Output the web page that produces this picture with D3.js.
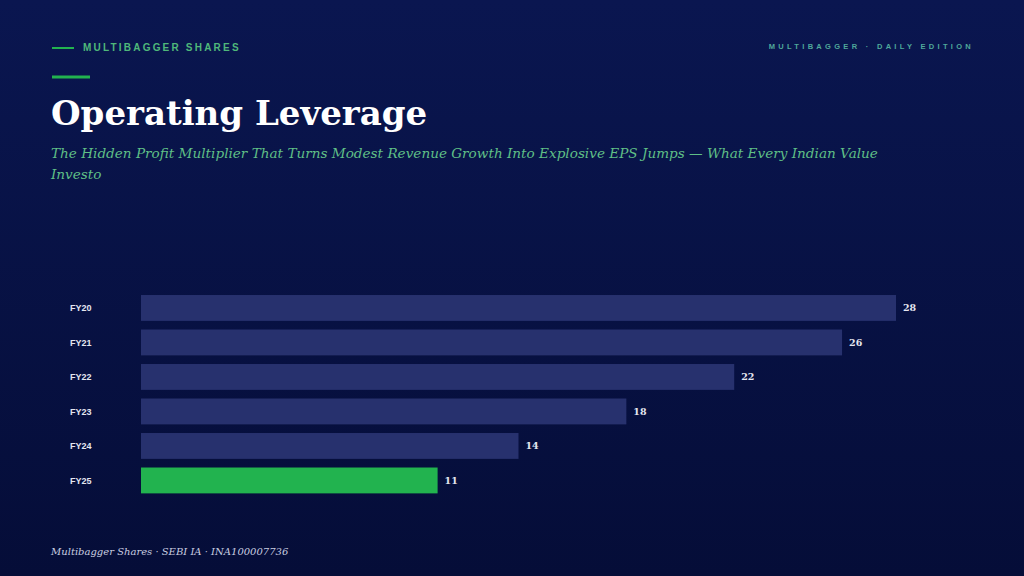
<!DOCTYPE html>
<html>
<head>
<meta charset="utf-8">
<script src="https://cdn.jsdelivr.net/npm/d3@7"></script>
<style>
  html, body { margin: 0; padding: 0; background: #081347; }
  svg { display: block; }
</style>
</head>
<body>
<div id="chart"></div>
<script>
var width = 1024,
    height = 576;

var years = ["FY20", "FY21", "FY22", "FY23", "FY24", "FY25"],
    values = [28, 26, 22, 18, 14, 11],
    highlight = ["FY25"];

var svg = d3.select("#chart").append("svg")
    .attr("width", width)
    .attr("height", height);

// background gradient
var grad = svg.append("defs").append("linearGradient")
    .attr("id", "bg-grad")
    .attr("x1", "0%").attr("x2", "0%")
    .attr("y1", "0%").attr("y2", "100%");
grad.selectAll("stop")
    .data([
      {offset: "0%", color: "#0a1650"},
      {offset: "100%", color: "#050d38"}
    ])
  .enter().append("stop")
    .attr("offset", function(d) { return d.offset; })
    .attr("stop-color", function(d) { return d.color; });

svg.append("rect")
    .attr("width", width)
    .attr("height", height)
    .attr("fill", "url(#bg-grad)");

// header
svg.append("line")
    .attr("x1", 52).attr("x2", 74)
    .attr("y1", 48).attr("y2", 48)
    .attr("stroke", "#22b34f").attr("stroke-width", 2);

svg.append("text")
    .attr("x", 83).attr("y", 51)
    .attr("fill", "#4fb87a")
    .attr("font-family", "Liberation Sans, Arial, sans-serif")
    .attr("font-weight", "bold")
    .attr("font-size", 10)
    .attr("letter-spacing", 2.2)
    .text("MULTIBAGGER SHARES");

svg.append("text")
    .attr("x", 974).attr("y", 49)
    .attr("text-anchor", "end")
    .attr("fill", "#4fa89a")
    .attr("font-family", "Liberation Sans, Arial, sans-serif")
    .attr("font-weight", "bold")
    .attr("font-size", 7.5)
    .attr("letter-spacing", 3.3)
    .text("MULTIBAGGER · DAILY EDITION");

svg.append("line")
    .attr("x1", 52).attr("x2", 90)
    .attr("y1", 77).attr("y2", 77)
    .attr("stroke", "#22b34f").attr("stroke-width", 3);

svg.append("text")
    .attr("x", 51).attr("y", 125)
    .attr("fill", "#ffffff")
    .attr("font-family", "DejaVu Serif, Georgia, serif")
    .attr("font-weight", "bold")
    .attr("font-size", 34)
    .text("Operating Leverage");

var sub = svg.append("text")
    .attr("fill", "#5fbf86")
    .attr("font-family", "DejaVu Serif, Georgia, serif")
    .attr("font-style", "italic")
    .attr("font-size", 13.6);
sub.append("tspan").attr("x", 51).attr("y", 158)
    .text("The Hidden Profit Multiplier That Turns Modest Revenue Growth Into Explosive EPS Jumps — What Every Indian Value");
sub.append("tspan").attr("x", 51).attr("y", 179)
    .text("Investo");

// chart
var x = d3.scaleLinear()
    .domain([0, 28])
    .range([141, 896]);

var y = d3.scaleBand()
    .domain(years)
    .range([290.7, 497.7])
    .paddingInner(0.25)
    .paddingOuter(0.125);

var rows = svg.append("g").attr("class", "bars")
  .selectAll("g")
    .data(years.map(function(d, i) { return {year: d, value: values[i]}; }))
  .enter().append("g");

rows.append("rect")
    .attr("x", x(0))
    .attr("y", function(d) { return y(d.year); })
    .attr("width", function(d) { return x(d.value) - x(0); })
    .attr("height", y.bandwidth())
    .attr("fill", function(d) { return highlight.indexOf(d.year) >= 0 ? "#22b34f" : "#27316e"; });

rows.append("text")
    .attr("x", 70)
    .attr("y", function(d) { return y(d.year) + y.bandwidth() / 2; })
    .attr("dy", "0.35em")
    .attr("fill", "#e4e6f0")
    .attr("font-family", "Liberation Sans, Arial, sans-serif")
    .attr("font-weight", "bold")
    .attr("font-size", 9)
    .text(function(d) { return d.year; });

rows.append("text")
    .attr("x", function(d) { return x(d.value) + 7; })
    .attr("y", function(d) { return y(d.year) + y.bandwidth() / 2; })
    .attr("dy", "0.35em")
    .attr("fill", "#e4e6f0")
    .attr("font-family", "DejaVu Serif, Georgia, serif")
    .attr("font-weight", "bold")
    .attr("font-size", 9.5)
    .text(function(d) { return d.value; });

// footer
svg.append("text")
    .attr("x", 51).attr("y", 555)
    .attr("fill", "#c9cde0")
    .attr("font-family", "DejaVu Serif, Georgia, serif")
    .attr("font-style", "italic")
    .attr("font-size", 10)
    .text("Multibagger Shares · SEBI IA · INA100007736");
</script>
</body>
</html>
